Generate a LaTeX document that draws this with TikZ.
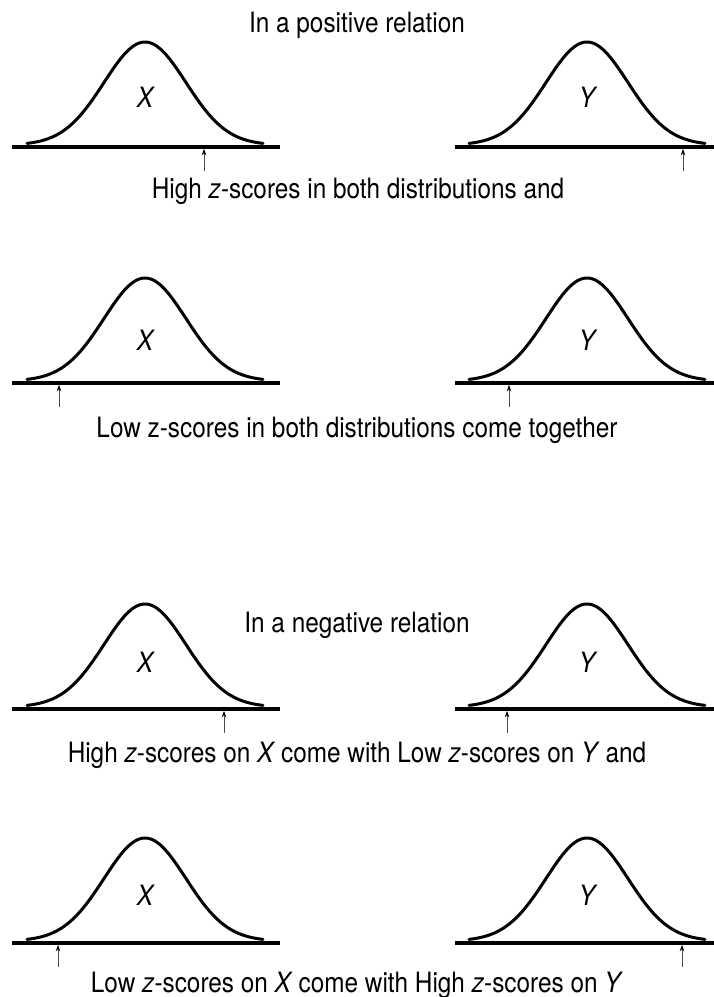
\documentclass[tikz,border=0pt]{standalone}
\usepackage{fontspec}
\setmainfont[FakeStretch=0.87]{TeX Gyre Heros}
\usetikzlibrary{arrows.meta}
\newcommand\bellpanel[7]{% #1 name, #2 centre x, #3 base y, #4 line left, #5 line right, #6 label, #7 arrow x
  \draw[axisline] (#4,#3) -- (#5,#3);
  \draw[bellline] plot[domain=-118:118,samples=120,smooth]
    ({#2+\x},{#3-2-103*exp(-(\x)*(\x)/3362)});
  \coordinate (#1tip) at (#7,#3+1.8);
  \coordinate (#1end) at (#7,#3+24);
  \draw[pointer] (#1tip) -- (#1end);
}
\begin{document}
\begin{tikzpicture}[x=1pt,y=-1pt,
  axisline/.style={line width=3.3pt},
  bellline/.style={line width=3pt,line join=round,line cap=round},
  pointer/.style={line width=0.9pt,draw=black!70,{Stealth[length=6.5pt,width=4.5pt,black]}-},
  caption/.style={font=\fontsize{28}{32}\selectfont,inner sep=0pt,anchor=base},
  varlabel/.style={font=\fontsize{28}{32}\selectfont\itshape,inner sep=0pt}]
\useasboundingbox (0,0) rectangle (714,997);

% positive relation
\node[caption] (title1) at (357,32) {In a positive relation};
\bellpanel{pa}{145}{147}{12}{280}{X}{204}
\node[varlabel] (pax) at (145,97) {X};
\bellpanel{pb}{587}{147}{455}{714}{Y}{683}
\node[varlabel] (pby) at (587,97) {Y};
\node[caption] (cap1) at (358,198) {High \textit{z}-scores in both distributions and};

\bellpanel{pc}{145}{383}{12}{280}{X}{59}
\node[varlabel] (pcx) at (145,340) {X};
\bellpanel{pd}{587}{383}{455}{714}{Y}{509}
\node[varlabel] (pdy) at (587,340) {Y};
\node[caption] (cap2) at (357,437) {Low z-scores in both distributions come together};

% negative relation
\node[caption] (title2) at (357,632) {In a negative relation};
\bellpanel{pe}{145}{709}{12}{280}{X}{224}
\node[varlabel] (pex) at (145,662) {X};
\bellpanel{pf}{587}{709}{455}{714}{Y}{507}
\node[varlabel] (pfy) at (587,662) {Y};
\node[caption] (cap3) at (357,762) {High \textit{z}-scores on \textit{X}\kern-1pt{} come with Low \textit{z}-scores on \textit{Y}\kern-1pt{} and};

\bellpanel{pg}{145}{943}{12}{280}{X}{58}
\node[varlabel] (pgx) at (145,895) {X};
\bellpanel{ph}{587}{943}{455}{714}{Y}{682}
\node[varlabel] (phy) at (587,895) {Y};
\node[caption] (cap4) at (357,992) {Low \textit{z}-scores on \textit{X}\kern-1pt{} come with High \textit{z}-scores on \textit{Y}};
\end{tikzpicture}
\end{document}
